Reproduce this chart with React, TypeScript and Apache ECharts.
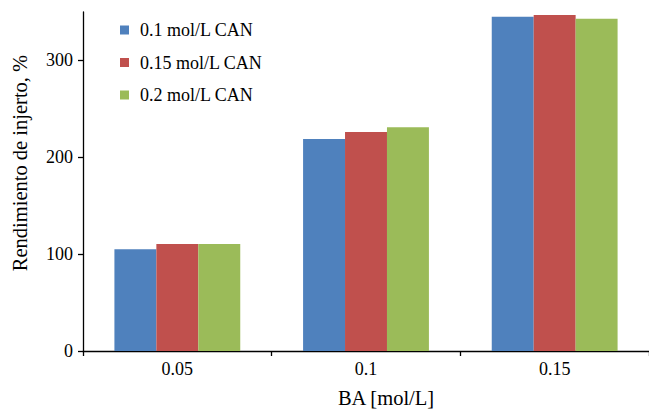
import React, { useEffect, useRef } from "react";
import * as echarts from "echarts";

const categories = ["0.05", "0.1", "0.15"];
const seriesNames = ["0.1 mol/L CAN", "0.15 mol/L CAN", "0.2 mol/L CAN"];
const can01 = [105, 219, 345];
const can015 = [110.5, 226, 347];
const can02 = [110.5, 231, 343];
const yTicks = [0, 100, 200, 300];
const colors = ["#4F81BD", "#C0504D", "#9BBB59"];

const FONT = "'Liberation Serif', 'Times New Roman', serif";

export default function App() {
  const ref = useRef<HTMLDivElement>(null);
  useEffect(() => {
    if (!ref.current) return;
    const chart = echarts.init(ref.current, undefined, { renderer: "svg" });
    const values = [can01, can015, can02];
    chart.setOption({
      animation: false,
      backgroundColor: "#ffffff",
      textStyle: { fontFamily: FONT, color: "#000" },
      grid: { left: 83, top: 12, right: -7, bottom: 58, containLabel: false },
      legend: {
        orient: "vertical",
        left: 120,
        top: 21,
        padding: 0,
        itemWidth: 9,
        itemHeight: 9,
        itemGap: 14.5,
        icon: "rect",
        data: seriesNames,
        textStyle: {
          fontFamily: FONT,
          fontSize: 18,
          color: "#000",
          lineHeight: 18,
          padding: [0, 0, 0, 6],
        },
      },
      xAxis: [
        {
          type: "category",
          data: categories,
          axisLine: { show: true, lineStyle: { color: "#000", width: 1.3 } },
          axisTick: { show: true, length: 5, inside: false, alignWithLabel: false, lineStyle: { color: "#000", width: 1.3 } },
          axisLabel: { fontFamily: FONT, fontSize: 18, color: "#000", margin: 9 },
          splitLine: { show: false },
        },
        {
          type: "category",
          data: categories,
          position: "bottom",
          axisLine: { show: false },
          axisTick: { show: true, length: 4, inside: true, alignWithLabel: true, lineStyle: { color: "#000", width: 1.3 } },
          axisLabel: { show: false },
          splitLine: { show: false },
        },
      ],
      yAxis: {
        type: "value",
        min: 0,
        max: 350,
        interval: 50,
        axisLine: { show: true, lineStyle: { color: "#000", width: 1.3 } },
        axisTick: {
          show: true,
          length: 5,
          customValues: yTicks,
          lineStyle: { color: "#000", width: 1.3 },
        },
        axisLabel: {
          fontFamily: FONT,
          fontSize: 18,
          color: "#000",
          margin: 10,
          customValues: yTicks,
        },
        splitLine: { show: false },
      },
      series: seriesNames.map((name, i) => ({
        name,
        type: "bar",
        xAxisIndex: 0,
        data: values[i],
        barGap: "0%",
        barCategoryGap: "33.3%",
        itemStyle: { color: colors[i] },
      })),
      graphic: [
        {
          type: "text",
          x: 20,
          y: 163,
          rotation: Math.PI / 2,
          style: {
            text: "Rendimiento de injerto, %",
            font: `20.5px ${FONT}`,
            fill: "#000",
            textAlign: "center",
            textVerticalAlign: "middle",
          },
        },
        {
          type: "text",
          x: 386,
          y: 397.5,
          style: {
            text: "BA [mol/L]",
            font: `20.5px ${FONT}`,
            fill: "#000",
            textAlign: "center",
            textVerticalAlign: "middle",
          },
        },
      ],
    });
    return () => chart.dispose();
  }, []);
  return (
    <div
      ref={ref}
      style={{ position: "absolute", left: 0, top: 0, width: 649, height: 409 }}
    />
  );
}
